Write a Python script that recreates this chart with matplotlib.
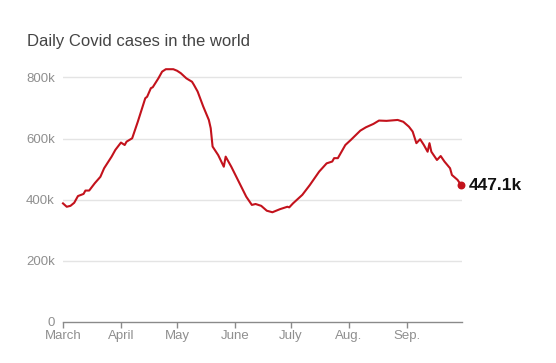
import matplotlib.pyplot as plt

# --- DATA (days since March 1, daily cases in thousands) ---
days = [0, 2, 4, 6, 8, 11, 12, 14, 17, 20, 22, 26, 28, 31, 33, 34, 37, 40, 44, 45,
        47, 48, 51, 53, 55, 59, 61, 63, 66, 69, 70, 72, 75, 78, 79, 80, 83, 86, 87, 90,
        94, 98, 101, 103, 106, 109, 112, 116, 120, 121, 123, 128, 132, 137, 141, 144,
        145, 147, 151, 154, 159, 162, 166, 169, 173, 179, 182, 185, 187, 189, 191, 193,
        195, 196, 197, 200, 202, 204, 207, 208, 211, 213]
cases_k = [388, 377, 380, 390, 412, 419, 430, 430, 454, 475, 503, 541, 563, 587, 579, 590,
           601, 655, 732, 737, 765, 768, 797, 819, 827, 827, 822, 814, 797, 786, 776, 754,
           705, 661, 634, 574, 546, 508, 541, 508, 459, 410, 383, 386, 380, 364, 359, 369,
           377, 375, 388, 416, 448, 492, 519, 525, 536, 536, 579, 596, 626, 637, 648, 659,
           658, 661, 655, 639, 623, 585, 598, 579, 557, 585, 557, 530, 543, 525, 503, 481,
           465, 447.1]
month_starts = [0, 31, 61, 92, 122, 153, 184]
month_labels = ["March", "April", "May", "June", "July", "Aug.", "Sep."]
y_ticks = [0, 200, 400, 600, 800]
y_labels = ["0", "200k", "400k", "600k", "800k"]
last_label = "447.1k"

# --- FIGURE ---
fig = plt.figure(figsize=(5.56, 3.63), dpi=100)
ax = fig.add_axes([0.1133, 0.113, 0.718, 0.7157])

red = "#c3121c"
ax.plot(days, cases_k, color=red, lw=1.5, solid_joinstyle="round", zorder=3, clip_on=False)
ax.scatter([days[-1]], [cases_k[-1]], s=22, color=red, zorder=4, clip_on=False)
ax.text(days[-1] + 4, cases_k[-1], last_label, fontsize=12.5, fontweight="bold",
        color="#111111", va="center", ha="left", family="Liberation Sans")

ax.set_xlim(0, 213.5)
ax.set_ylim(0, 850)

ax.set_yticks(y_ticks)
ax.set_yticklabels(y_labels)
ax.set_xticks(month_starts)
ax.set_xticklabels(month_labels)

for v in y_ticks[1:]:
    ax.axhline(v, color="#e4e4e4", lw=1, zorder=1)

for s in ["top", "right", "left"]:
    ax.spines[s].set_visible(False)
ax.spines["bottom"].set_color("#8a8a8a")
ax.spines["bottom"].set_linewidth(1)

ax.tick_params(axis="y", length=0, pad=6, labelsize=9.5, labelcolor="#8f8f8f")
ax.tick_params(axis="x", length=4, width=1, color="#8a8a8a", pad=2,
               labelsize=9.5, labelcolor="#8f8f8f")
for lab in ax.get_xticklabels() + ax.get_yticklabels():
    lab.set_family("Liberation Sans")

fig.text(0.048, 0.885, "Daily Covid cases in the world", fontsize=12,
         color="#444444", family="Liberation Sans", va="center", ha="left")

fig.savefig("out.png", dpi=100, facecolor="white")
